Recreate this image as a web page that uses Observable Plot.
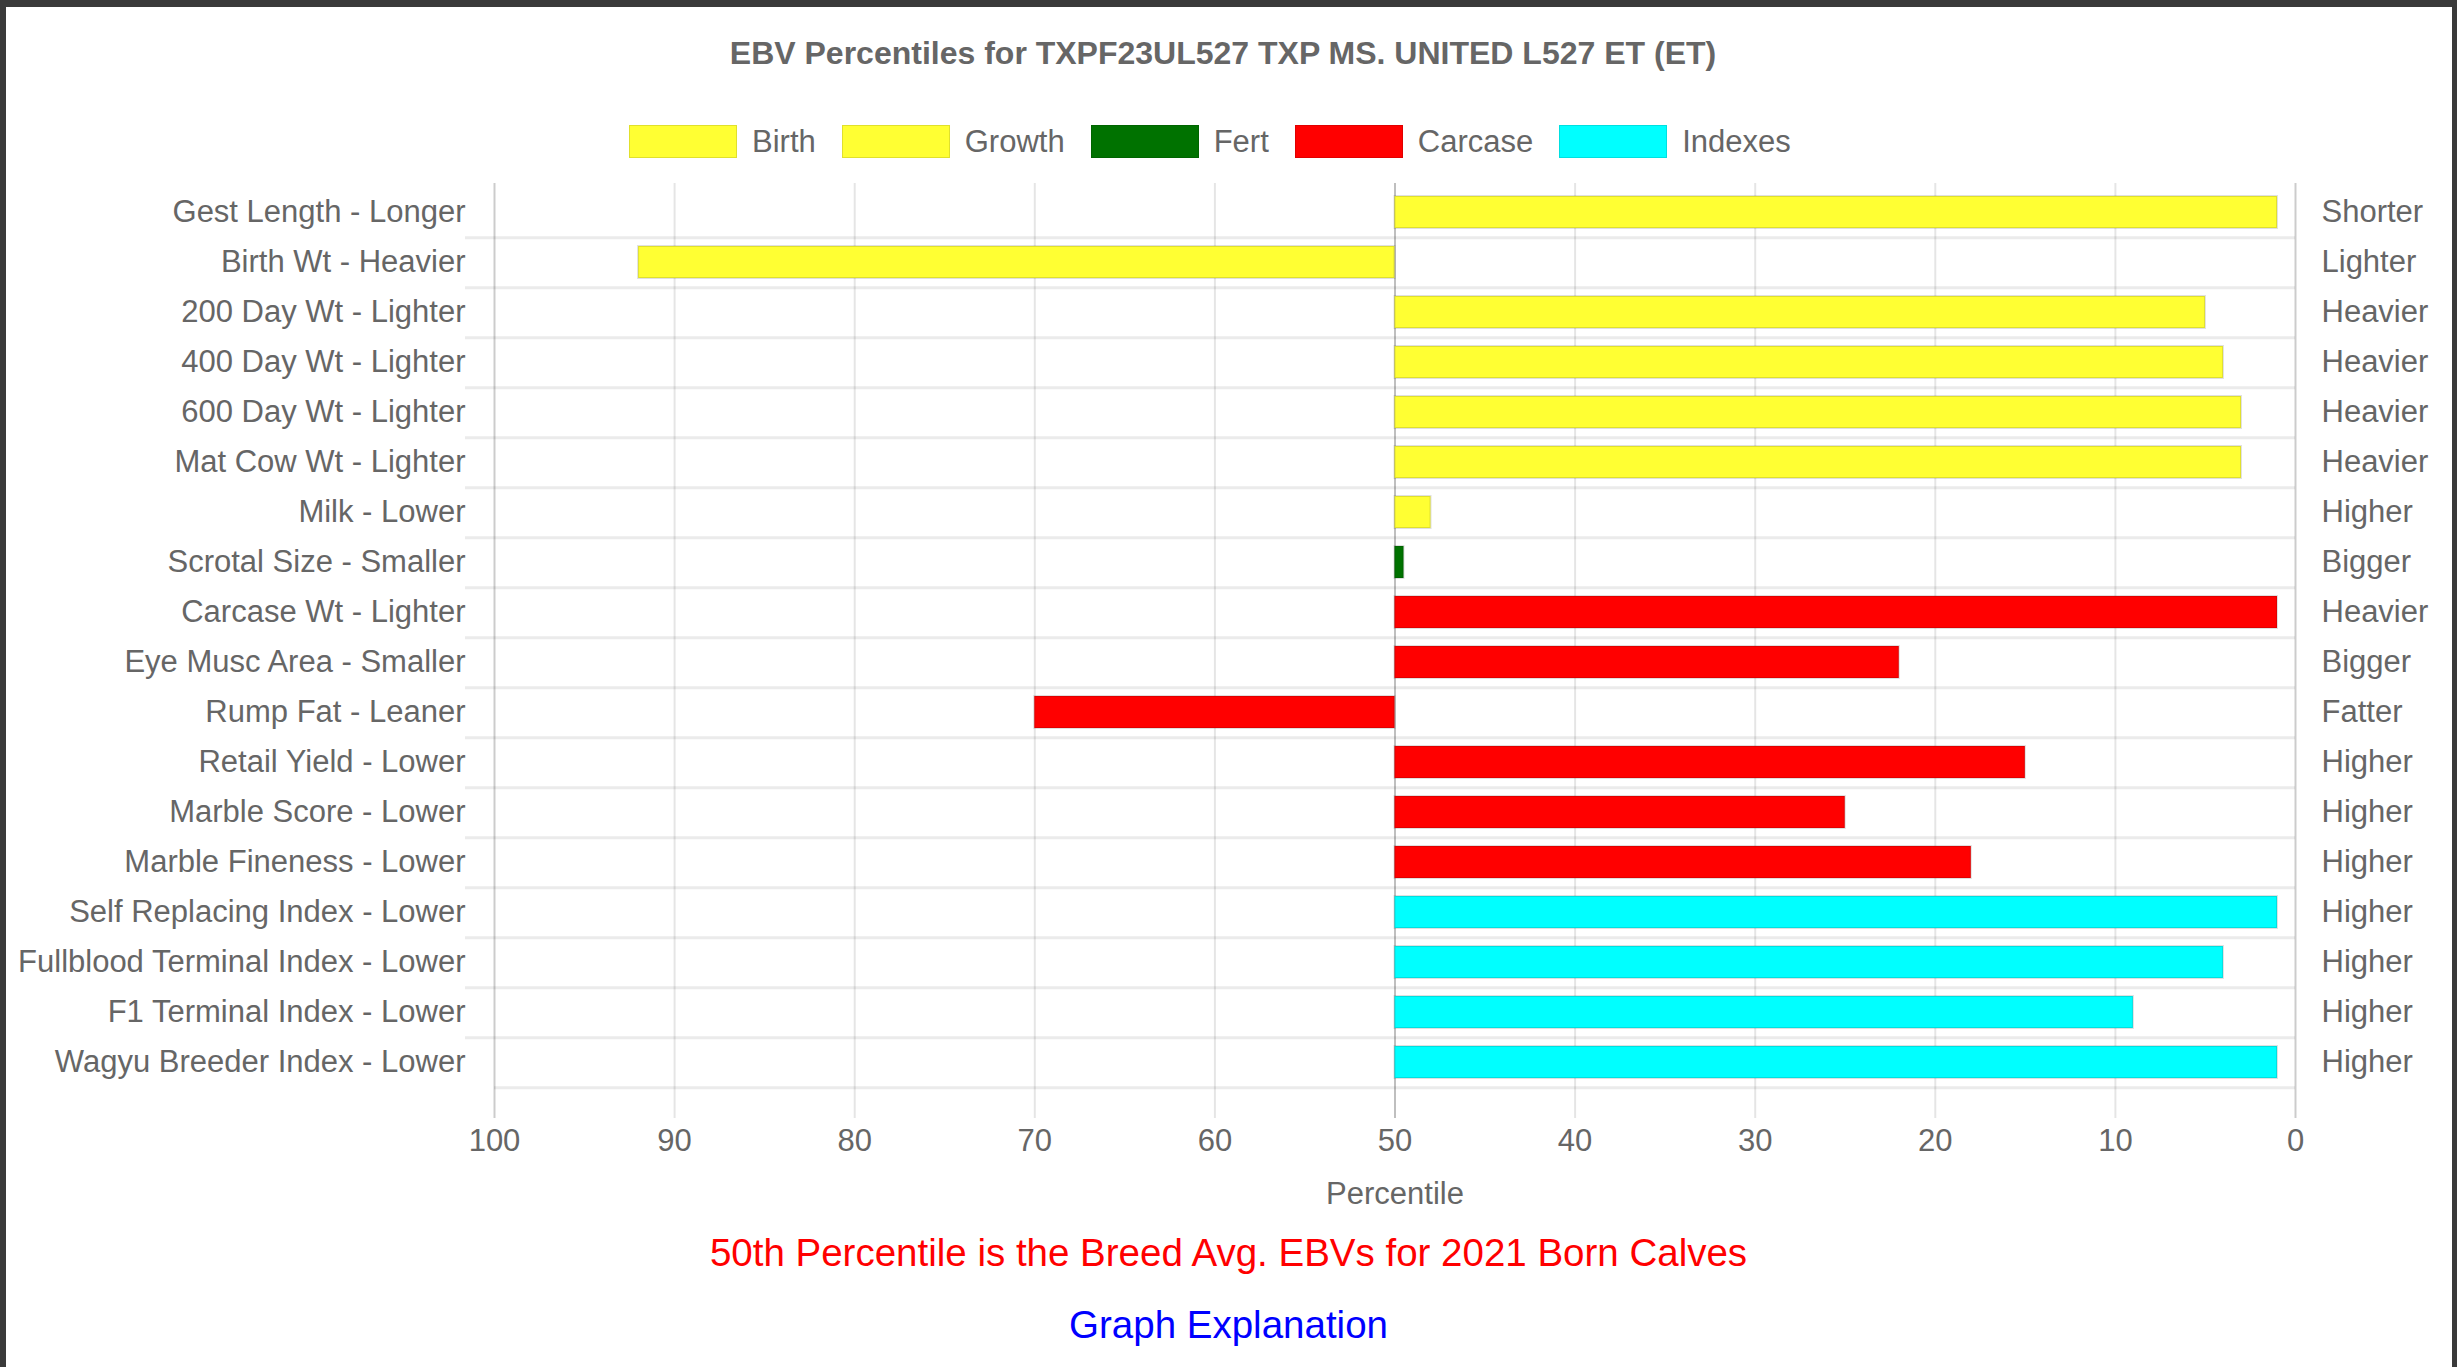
<!DOCTYPE html>
<html>
<head>
<meta charset="utf-8">
<script src="https://cdn.jsdelivr.net/npm/d3@7"></script>
<script src="https://cdn.jsdelivr.net/npm/@observablehq/plot@0.6"></script>
<style>
  html, body { margin: 0; padding: 0; width: 2457px; height: 1367px; overflow: hidden; background: #3a3a3a; font-family: "Liberation Sans", Arial, sans-serif; }
  #panel { position: absolute; left: 6px; top: 7px; width: 2446px; height: 1360px; background: #fff; }
  #title { position: absolute; left: 0; top: 37px; width: 2446px; text-align: center; font-weight: bold; font-size: 32px; line-height: 32px; color: #666; white-space: nowrap; }
  #legend { position: absolute; left: 629px; top: 125px; height: 33px; display: flex; align-items: center; font-size: 31px; color: #666; white-space: nowrap; }
  #legend .sw { width: 106px; height: 31px; border: 1px solid rgba(0,0,0,0.12); margin-right: 15px; }
  #legend .lab { margin-right: 26px; }
  #chart { position: absolute; left: 0; top: 170px; }
  #note { position: absolute; left: 0; width: 2457px; top: 1232px; text-align: center; font-size: 38.5px; line-height: 42px; color: #ff0000; white-space: nowrap; }
  #explain { position: absolute; left: 0; width: 2457px; top: 1304px; text-align: center; font-size: 38.5px; line-height: 42px; color: #0000ff; white-space: nowrap; }
</style>
</head>
<body>
<div id="panel"></div>
<div id="title"></div>
<div id="legend"></div>
<div id="chart"></div>
<div id="note"></div>
<div id="explain"></div>
<script>
// ---- data ----
const chartTitle = "EBV Percentiles for TXPF23UL527 TXP MS. UNITED L527 ET (ET)";
const traits = [
  "Gest Length - Longer", "Birth Wt - Heavier", "200 Day Wt - Lighter", "400 Day Wt - Lighter",
  "600 Day Wt - Lighter", "Mat Cow Wt - Lighter", "Milk - Lower", "Scrotal Size - Smaller",
  "Carcase Wt - Lighter", "Eye Musc Area - Smaller", "Rump Fat - Leaner", "Retail Yield - Lower",
  "Marble Score - Lower", "Marble Fineness - Lower", "Self Replacing Index - Lower",
  "Fullblood Terminal Index - Lower", "F1 Terminal Index - Lower", "Wagyu Breeder Index - Lower"
];
const rightLabels = [
  "Shorter", "Lighter", "Heavier", "Heavier", "Heavier", "Heavier", "Higher", "Bigger",
  "Heavier", "Bigger", "Fatter", "Higher", "Higher", "Higher", "Higher", "Higher", "Higher", "Higher"
];
const percentiles = [1, 92, 5, 4, 3, 3, 48, 49.5, 1, 22, 70, 15, 25, 18, 1, 4, 9, 1];
const traitGroups = [
  "Birth", "Birth", "Growth", "Growth", "Growth", "Growth", "Growth", "Fert",
  "Carcase", "Carcase", "Carcase", "Carcase", "Carcase", "Carcase",
  "Indexes", "Indexes", "Indexes", "Indexes"
];
const groupNames = ["Birth", "Growth", "Fert", "Carcase", "Indexes"];
const groupColors = ["#ffff33", "#ffff33", "#007200", "#ff0000", "#00ffff"];
const xTicks = [100, 90, 80, 70, 60, 50, 40, 30, 20, 10, 0];
const breedAvg = 50;
const xLabel = "Percentile";
const noteText = "50th Percentile is the Breed Avg. EBVs for 2021 Born Calves";
const explainText = "Graph Explanation";

// ---- build ----
const rows = traits.map((t, i) => ({trait: t, right: rightLabels[i], value: percentiles[i], group: traitGroups[i]}));
const rightMap = new Map(traits.map((t, i) => [t, rightLabels[i]]));

document.getElementById("title").textContent = chartTitle;
document.getElementById("note").textContent = noteText;
document.getElementById("explain").textContent = explainText;

const legend = document.getElementById("legend");
groupNames.forEach((g, i) => {
  const sw = document.createElement("span");
  sw.className = "sw";
  sw.style.background = groupColors[i];
  const lab = document.createElement("span");
  lab.className = "lab";
  lab.textContent = g;
  legend.appendChild(sw);
  legend.appendChild(lab);
});

const W = 2457, H = 1045;
const mT = 13, mB = 124, mL = 494, mR = 162;
const step = (H - mT - mB) / traits.length;

const chart = Plot.plot({
  width: W,
  height: H,
  marginTop: mT,
  marginBottom: mB,
  marginLeft: mL,
  marginRight: mR,
  style: {fontFamily: "'Liberation Sans', Arial, sans-serif", fontSize: "31px", color: "#666", background: "transparent", overflow: "visible"},
  x: {domain: [100, 0]},
  y: {domain: traits, padding: 0},
  color: {domain: groupNames, range: groupColors},
  marks: [
    // vertical grid + tick extensions
    Plot.ruleX(xTicks.filter(d => d !== 100 && d !== 0 && d !== breedAvg), {x: d => d, stroke: "#000", strokeOpacity: 0.1, strokeWidth: 2, insetBottom: -27}),
    // horizontal row boundaries
    Plot.ruleY(traits.slice(0, -1), {y: d => d, dy: step / 2, x1: 100, x2: 0, insetLeft: -29, stroke: "#000", strokeOpacity: 0.08, strokeWidth: 3}),
    Plot.ruleY(traits.slice(-1), {y: d => d, dy: step / 2, x1: 100, x2: 0, stroke: "#000", strokeOpacity: 0.08, strokeWidth: 3}),
    // axis lines
    Plot.ruleX([100, 0], {x: d => d, stroke: "#000", strokeOpacity: 0.2, strokeWidth: 2, insetBottom: -27}),
    Plot.ruleX([breedAvg], {x: d => d, stroke: "#000", strokeOpacity: 0.25, strokeWidth: 2, insetBottom: -27}),
    // bars
    Plot.barX(rows, {y: "trait", x1: breedAvg, x2: "value", fill: "group", stroke: "#000", strokeOpacity: 0.12, strokeWidth: 2, insetTop: 9, insetBottom: 9}),
    // axes
    Plot.axisX({ticks: xTicks, tickSize: 0, tickPadding: 37, fill: "#666", label: null}),
    Plot.axisY({anchor: "left", tickSize: 0, tickPadding: 29, fill: "#666", label: null}),
    Plot.axisY({anchor: "right", tickSize: 0, tickPadding: 26, fill: "#666", label: null, tickFormat: d => rightMap.get(d)}),
    Plot.text([xLabel], {frameAnchor: "bottom", dy: 103, lineAnchor: "middle", fill: "#666", fontSize: 31})
  ]
});
document.getElementById("chart").appendChild(chart);
</script>
</body>
</html>
